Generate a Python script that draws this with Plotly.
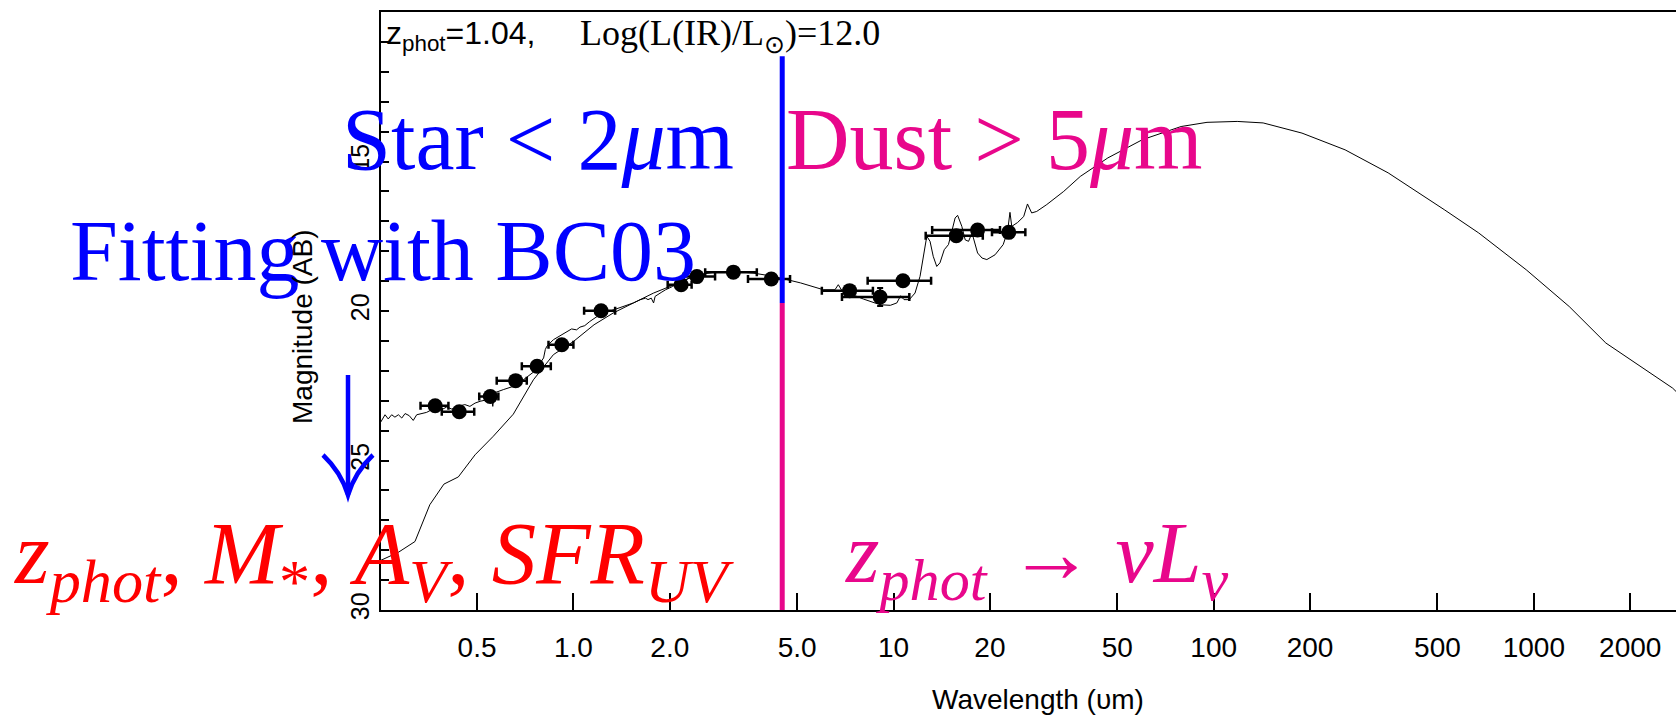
import plotly.graph_objects as go

# ---------------- data ----------------
# photometric points (wavelength in micron, AB magnitude)
phot_wl = [0.37, 0.44, 0.55, 0.66, 0.77, 0.92, 1.22, 2.17, 2.43, 3.16, 4.15,
           7.29, 9.08, 10.7, 15.7, 18.3, 22.9]
phot_mag = [23.17, 23.37, 22.86, 22.33, 21.85, 21.13, 19.99, 19.12, 18.85, 18.70, 18.93,
            19.32, 19.53, 18.99, 17.48, 17.29, 17.37]
phot_wl_lo = [0.333, 0.388, 0.508, 0.576, 0.690, 0.836, 1.08, 1.97, 2.21, 2.58, 3.51,
              5.97, 6.90, 8.30, 12.6, 13.2, 20.3]
phot_wl_hi = [0.407, 0.490, 0.583, 0.715, 0.850, 1.00, 1.35, 2.34, 2.77, 3.74, 4.75,
              8.62, 11.2, 13.1, 19.0, 21.5, 25.8]
phot_mag_err = [0.1, 0.1, 0.1, 0.1, 0.1, 0.1, 0.1, 0.1, 0.1, 0.1, 0.1,
                0.1, 0.3, 0.1, 0.1, 0.1, 0.1]

# total model SED (stellar spectrum + dust template)
model_wl = [0.249, 0.258, 0.264, 0.2706, 0.277, 0.284, 0.291, 0.298, 0.307, 0.316,
            0.324, 0.336, 0.348, 0.361, 0.374, 0.388, 0.402, 0.417, 0.437, 0.458,
            0.475, 0.493, 0.511, 0.536, 0.55, 0.56, 0.566, 0.604, 0.649, 0.698,
            0.741, 0.768, 0.787, 0.807, 0.817, 0.826, 0.866, 0.92, 0.952, 0.987,
            1.023, 1.048, 1.085, 1.125, 1.21, 1.30, 1.39, 1.46, 1.54, 1.62,
            1.68, 1.71, 1.75, 1.78, 1.80, 1.88, 1.94, 2.04, 2.14, 2.25,
            2.43, 2.74, 3.16, 3.64, 4.21, 4.87, 5.12, 6.04, 6.56, 6.72,
            6.89, 8.05, 9.08, 9.77, 10.24, 10.52, 10.78, 11.2, 11.67, 12.1,
            12.45, 12.7, 13.0, 13.3, 13.64, 13.96, 14.4, 14.84, 15.2, 15.57,
            15.85, 16.34, 16.74, 17.15, 17.58, 17.87, 18.3, 18.9, 19.56, 20.75,
            22.0, 22.7, 23.1, 23.4, 24.4, 25.5, 26.2, 27.0, 28.0, 30.1,
            34.0, 38.3, 46.7, 59.9, 79.1, 95.3, 118.4, 142.7, 188.7, 257.3,
            350.7, 524.8, 672.6, 946.4, 1289.5, 1678, 2714, 2780]
model_mag = [23.75, 23.47, 23.61, 23.47, 23.55, 23.47, 23.58, 23.43, 23.50, 23.66,
             23.47, 23.43, 23.39, 23.30, 23.24, 23.30, 23.21, 23.28, 23.19, 23.13,
             23.19, 23.08, 23.02, 22.97, 22.69, 23.19, 22.74, 22.63, 22.52, 22.30,
             22.07, 21.96, 21.74, 21.57, 21.29, 21.18, 20.96, 20.79, 20.68, 20.60,
             20.63, 20.54, 20.49, 20.35, 20.12, 20.01, 19.90, 19.82, 19.73, 19.62,
             19.57, 19.62, 19.57, 19.73, 19.51, 19.38, 19.29, 19.18, 19.06, 18.95,
             18.79, 18.71, 18.68, 18.73, 18.84, 19.00, 19.06, 19.29, 19.29, 19.12,
             19.31, 19.60, 19.79, 19.81, 19.73, 19.49, 19.62, 19.62, 19.40, 18.84,
             18.06, 17.50, 17.67, 18.17, 18.51, 18.39, 17.95, 17.78, 17.34, 16.89,
             16.80, 17.17, 17.62, 17.67, 17.39, 17.67, 18.06, 18.23, 18.28, 18.12,
             17.78, 17.34, 16.70, 17.17, 17.04, 16.84, 16.42, 16.72, 16.67, 16.44,
             16.00, 15.50, 14.88, 14.27, 13.83, 13.69, 13.66, 13.71, 14.05, 14.61,
             15.38, 16.61, 17.39, 18.62, 19.85, 21.07, 22.58, 22.69]

# smooth stellar template
stellar_wl = [0.249, 0.284, 0.320, 0.356, 0.394, 0.437, 0.493, 0.562, 0.649, 0.75,
              0.866, 1.0, 1.16, 1.33, 1.54, 1.78, 2.0, 2.26, 2.43]
stellar_mag = [28.35, 28.07, 27.71, 26.48, 25.79, 25.55, 24.81, 24.19, 23.45, 22.30,
               21.46, 21.02, 20.46, 20.07, 19.73, 19.40, 19.18, 18.92, 18.79]

# star / dust divider
divider_wl = 4.49
divider_mag_top = 11.48
divider_mag_split = 19.73
divider_mag_bottom = 30.0

x_tickvals = [0.5, 1.0, 2.0, 5.0, 10, 20, 50, 100, 200, 500, 1000, 2000]
x_ticktext = ["0.5", "1.0", "2.0", "5.0", "10", "20", "50", "100", "200", "500", "1000", "2000"]
y_tickvals = [15, 20, 25, 30]
y_minor = [11, 12, 13, 14, 16, 17, 18, 19, 21, 22, 23, 24, 26, 27, 28, 29]

BLUE = "#0000ff"
RED = "#ff0000"
MAGENTA = "#e8078b"

# ---------------- figure ----------------
W, H = 1676, 715
ML, MR, MT, MB = 381, 0, 12, 105
PW, PH = W - ML - MR, H - MT - MB


def px(X):
    return (X - ML) / PW


def py(Y):
    return (H - MB - Y) / PH


fig = go.Figure()

fig.add_trace(go.Scatter(x=stellar_wl, y=stellar_mag, mode="lines",
                         line=dict(color="black", width=1), showlegend=False))
fig.add_trace(go.Scatter(x=model_wl, y=model_mag, mode="lines",
                         line=dict(color="black", width=1), showlegend=False))

fig.add_trace(go.Scatter(
    x=phot_wl, y=phot_mag, mode="markers",
    marker=dict(color="black", size=15),
    error_x=dict(type="data", symmetric=False,
                 array=[h - w for h, w in zip(phot_wl_hi, phot_wl)],
                 arrayminus=[w - l for w, l in zip(phot_wl, phot_wl_lo)],
                 color="black", thickness=2.5, width=4),
    error_y=dict(type="data", array=phot_mag_err, color="black", thickness=2, width=3),
    showlegend=False))

fig.add_trace(go.Scatter(x=[divider_wl, divider_wl], y=[divider_mag_top, divider_mag_split],
                         mode="lines", line=dict(color=BLUE, width=5), showlegend=False))
fig.add_trace(go.Scatter(x=[divider_wl, divider_wl], y=[divider_mag_split, divider_mag_bottom],
                         mode="lines", line=dict(color=MAGENTA, width=5), showlegend=False))

SERIF = "Liberation Serif"
SANS = "Liberation Sans"
BIG = 86

annotations = [
    dict(text="z<sub>phot</sub>=1.04,", x=px(384), y=py(36), xanchor="left", yanchor="middle",
         font=dict(family=SANS, size=32, color="black")),
    dict(text="Log(L(IR)/L<sub>⊙</sub>)=12.0", x=px(578), y=py(36), xanchor="left", yanchor="middle",
         font=dict(family=SERIF, size=36, color="black")),
    dict(text="Star &lt; 2<i>μ</i>m", x=px(340), y=py(139), xanchor="left", yanchor="middle",
         font=dict(family=SERIF, size=88, color=BLUE)),
    dict(text="Dust &gt; 5<i>μ</i>m", x=px(784), y=py(139), xanchor="left", yanchor="middle",
         font=dict(family=SERIF, size=88, color=MAGENTA)),
    dict(text="Fitting with BC03", x=px(68), y=py(251), xanchor="left", yanchor="middle",
         font=dict(family=SERIF, size=BIG, color=BLUE)),
    dict(text="<i>z</i><sub><i>phot</i></sub>, <i>M</i><sub>*</sub>, <i>A</i><sub><i>V</i></sub>, "
              "<i>SFR</i><sub><i>UV</i></sub>",
         x=px(12), y=py(559), xanchor="left", yanchor="middle",
         font=dict(family=SERIF, size=89, color=RED)),
    dict(text="<i>z</i><sub><i>phot</i></sub> → <i>νL</i><sub><i>ν</i></sub>",
         x=px(843), y=py(559), xanchor="left", yanchor="middle",
         font=dict(family=SERIF, size=BIG, color=MAGENTA)),
    dict(text="Wavelength (υm)", x=px(1038), y=py(699), xanchor="center", yanchor="middle",
         font=dict(family=SANS, size=28, color="black")),
    dict(text="Magnitude (AB)", x=px(302), y=py(327), xanchor="center", yanchor="middle",
         textangle=-90, font=dict(family=SANS, size=28, color="black")),
]
for a in annotations:
    a.update(xref="paper", yref="paper", showarrow=False)

# blue down arrow (decoration)
tipx, tipy = px(348), py(495)
topy = py(375)
lx, rx, army = px(323), px(373), py(455)
clx, crx, cy = px(341), px(355), py(472)
shapes = [
    dict(type="path", xref="paper", yref="paper",
         path=f"M {tipx},{topy} L {tipx},{tipy}",
         line=dict(color=BLUE, width=4.5)),
    dict(type="path", xref="paper", yref="paper",
         path=f"M {lx},{army} Q {clx},{cy} {tipx},{tipy} Q {crx},{cy} {rx},{army}",
         line=dict(color=BLUE, width=4.5)),
]

fig.update_layout(
    width=W, height=H,
    margin=dict(l=ML, r=MR, t=MT, b=MB, pad=0),
    paper_bgcolor="white", plot_bgcolor="white",
    showlegend=False,
    annotations=annotations,
    shapes=shapes,
    xaxis=dict(type="log", range=[-0.601, 3.444], showgrid=False, zeroline=False,
               showline=True, linecolor="black", linewidth=2, mirror=True,
               ticks="inside", ticklen=17, tickwidth=2, tickcolor="black",
               tickvals=x_tickvals, ticktext=x_ticktext, ticklabelstandoff=11,
               tickfont=dict(family=SANS, size=28, color="black")),
    yaxis=dict(range=[30, 10], showgrid=False, zeroline=False,
               showline=True, linecolor="black", linewidth=2, mirror=False,
               ticks="inside", ticklen=8, tickwidth=2, tickcolor="black",
               tickvals=y_tickvals, tickangle=-90,
               tickfont=dict(family=SANS, size=25, color="black"),
               minor=dict(tickvals=y_minor, ticks="inside", ticklen=8, tickwidth=2,
                          tickcolor="black", showgrid=False)),
)

fig.write_html("out.html", config={"displayModeBar": False},
               post_script="document.body.style.margin='0px';document.body.style.overflow='hidden';")
